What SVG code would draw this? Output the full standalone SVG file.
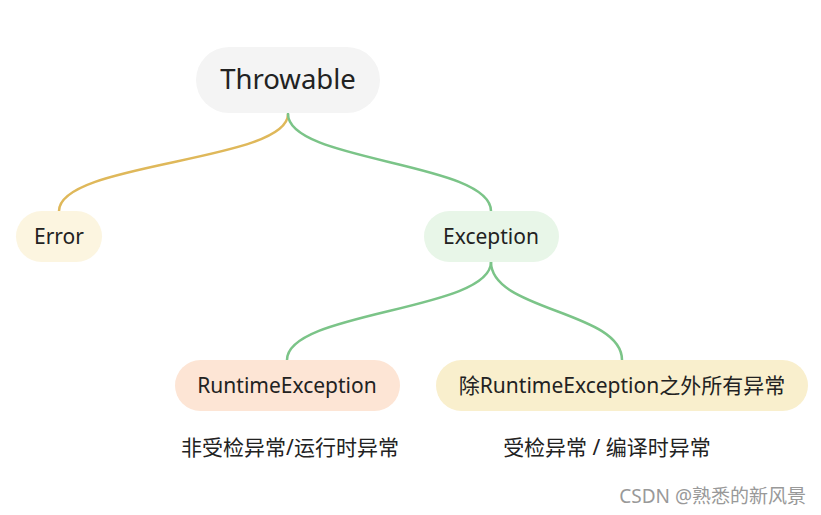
<svg xmlns="http://www.w3.org/2000/svg" width="821" height="515" viewBox="0 0 821 515">
<style>
text{font-family:"Noto Sans","Noto Sans CJK SC",sans-serif;fill:#222;text-anchor:middle}
.n{font-size:21px}
.c{fill:none;stroke-width:2.5;stroke-linecap:round}
</style>
<rect width="821" height="515" fill="#fff"/>
<g id="connectors">
<path class="c" stroke="#dfb85a" d="M288,114 C288,162 59,162 59,211"/>
<path class="c" stroke="#7bc488" d="M288,114 C288,162 491,162 491,211"/>
<path class="c" stroke="#7bc488" d="M491,262 C491,311 287,311 287,360"/>
<path class="c" stroke="#7bc488" d="M491,262 C491,311 622,311 622,360"/>
</g>
<g id="throwable"><rect x="196" y="47" width="184" height="66" rx="33" fill="#f4f4f4"/><text x="288" y="89" font-size="27.5">Throwable</text></g>
<g id="error"><rect x="16" y="211" width="86" height="51" rx="25.5" fill="#fcf5e0"/><text class="n" x="59" y="244">Error</text></g>
<g id="exception"><rect x="424" y="211" width="135" height="51" rx="25.5" fill="#e8f6e8"/><text class="n" x="491" y="244">Exception</text></g>
<g id="runtime"><rect x="175" y="360" width="225" height="51" rx="25.5" fill="#fde5d5"/><text class="n" x="287" y="393">RuntimeException</text></g>
<g id="checked"><rect x="436" y="360" width="372" height="51" rx="25.5" fill="#f9efcd"/><text class="n" x="622" y="393">除RuntimeException之外所有异常</text></g>
<g id="label1"><text class="n" x="290" y="455">非受检异常/运行时异常</text></g>
<g id="label2"><text class="n" x="607" y="455">受检异常 / 编译时异常</text></g>
<text x="806" y="503" font-size="19" style="text-anchor:end;fill:#999">CSDN @熟悉的新风景</text>
</svg>
